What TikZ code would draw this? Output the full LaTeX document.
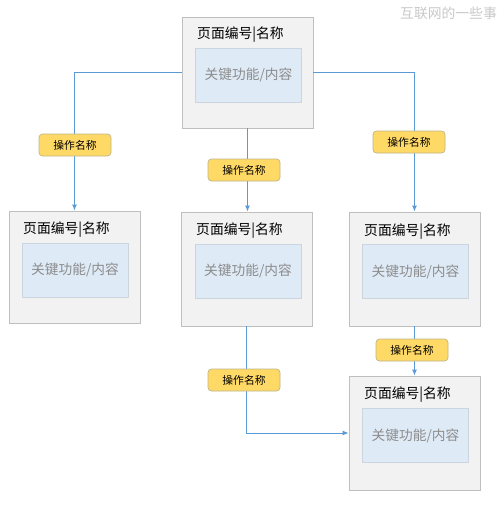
\documentclass[tikz,border=0pt]{standalone}
\usepackage{fontspec}
\setmainfont{Noto Sans CJK SC}
\usetikzlibrary{arrows.meta}
\definecolor{pagefill}{HTML}{F2F2F2}
\definecolor{pageline}{HTML}{BFBFBF}
\definecolor{innerfill}{HTML}{DEEAF6}
\definecolor{innerline}{HTML}{CCD5DE}
\definecolor{innertext}{HTML}{8C8C8C}
\definecolor{conncol}{HTML}{5B9BD5}
\definecolor{labfill}{HTML}{FFD966}
\definecolor{labline}{HTML}{BFB58A}
\definecolor{wmark}{HTML}{C8C8C8}
\tikzset{
  page/.style={draw=pageline, fill=pagefill, line width=0.9pt, minimum width=131pt, minimum height=113pt, inner sep=0pt},
  inner/.style={draw=innerline, fill=innerfill, line width=0.9pt, minimum width=106pt, minimum height=54pt, inner sep=0pt,
    text=innertext, font=\fontsize{13.7pt}{15pt}\selectfont},
  title/.style={anchor=west, inner sep=0pt, font=\fontsize{13.8pt}{15pt}\selectfont, text=black},
  lab/.style={draw=labline, fill=labfill, rounded corners=3.5pt, line width=0.7pt, minimum width=72pt, minimum height=22pt,
    inner sep=0pt, font=\fontsize{10.8pt}{12pt}\selectfont},
  conn/.style={draw=conncol, line width=0.9pt, -{Latex[length=6pt,width=5pt]}},
}
\begin{document}
\begin{tikzpicture}[x=1pt,y=-1pt]
\useasboundingbox (0,0) rectangle (503,506);
% watermark
\node[anchor=east, inner sep=0pt, text=wmark, font=\fontsize{13.8pt}{15pt}\selectfont] (wm) at (497,13) {互联网的一些事};
% pages
\node[page, minimum height=111pt] (top) at (247.5,72.5) {};
\node[page, minimum height=112pt] (left) at (74.5,267) {};
\node[page, minimum height=114pt] (mid) at (246.5,269) {};
\node[page, minimum height=114pt] (right) at (414.5,269) {};
\node[page, minimum height=114pt] (bot) at (414.5,433) {};
% titles
\node[title] (ttop) at (197,35) {页面编号|名称};
\node[title] (tleft) at (23,230) {页面编号|名称};
\node[title] (tmid) at (196,231) {页面编号|名称};
\node[title] (tright) at (364,232) {页面编号|名称};
\node[title] (tbot) at (364,395) {页面编号|名称};
% inner boxes
\node[inner] (itop) at (248.5,75) {关键功能/内容};
\node[inner] (ileft) at (75,270) {关键功能/内容};
\node[inner] (imid) at (248,271) {关键功能/内容};
\node[inner] (iright) at (415.5,271.5) {关键功能/内容};
\node[inner] (ibot) at (415.5,435.5) {关键功能/内容};
% connectors
\draw[conn] (top.west) -| (left.north);
\draw[conn] (top.south) -- (top.south |- mid.north);
\draw[conn] (top.east) -| (right.north);
\draw[conn] (mid.south) |- (bot.west);
\draw[conn] (right.south) -- (bot.north);
% labels
\node[lab] (l1) at (75,145) {操作名称};
\node[lab] (l2) at (244,170) {操作名称};
\node[lab] (l3) at (409,142) {操作名称};
\node[lab] (l4) at (244,380) {操作名称};
\node[lab] (l5) at (412,350) {操作名称};
\end{tikzpicture}
\end{document}
